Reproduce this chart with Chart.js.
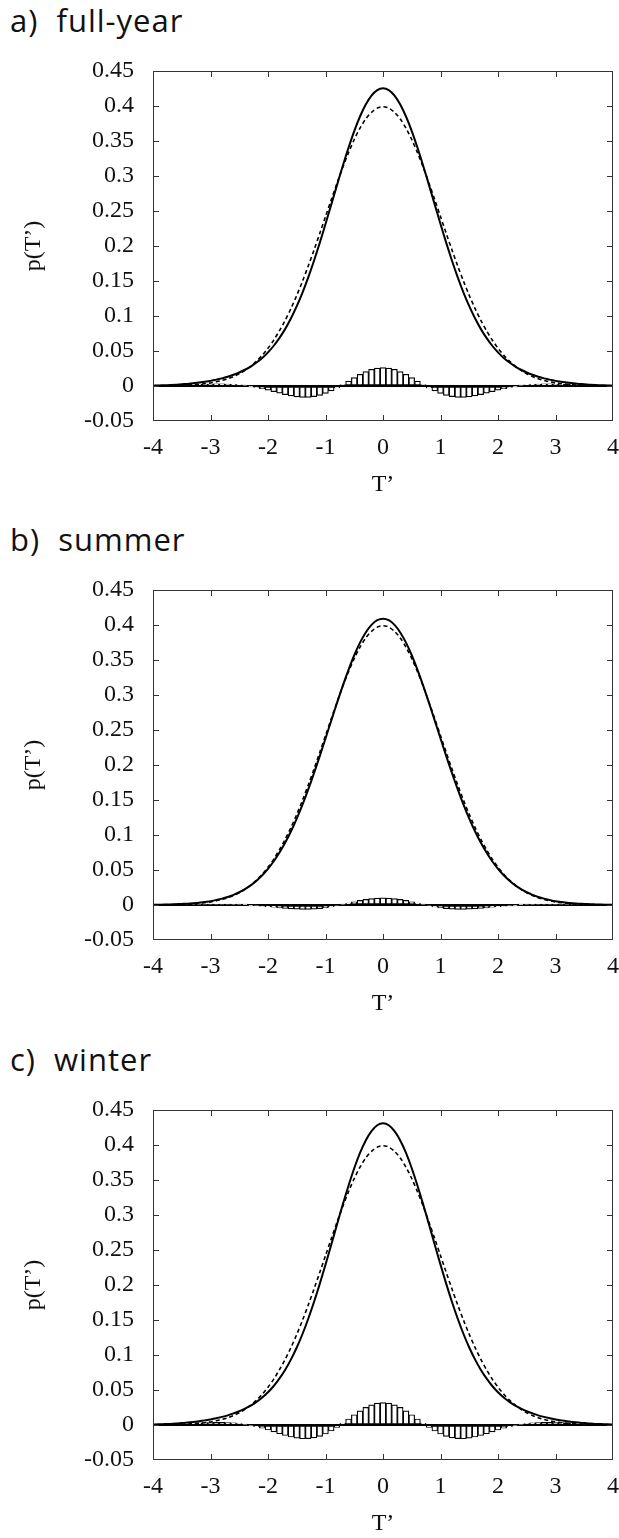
<!DOCTYPE html>
<html>
<head>
<meta charset="utf-8">
<script src="https://cdn.jsdelivr.net/npm/chart.js@4"></script>
<style>
  html, body { margin: 0; padding: 0; background: #fff; overflow: hidden; }
  body { width: 619px; height: 1538px; position: relative; }
  .panel { position: absolute; left: 0; width: 619px; height: 520px; }
  .title { position: absolute; left: 10px; top: 0px; font: 31px 'Open Sans', sans-serif; letter-spacing: 1px; line-height: 40px; color: #111; white-space: pre; }
  canvas { position: absolute; left: 0; top: 50px; }
</style>
</head>
<body>
<div class="panel" style="top:0px"><div class="title">a)  full-year</div><canvas id="chartA" width="619" height="460"></canvas></div>
<div class="panel" style="top:519px"><div class="title">b)  summer</div><canvas id="chartB" width="619" height="460"></canvas></div>
<div class="panel" style="top:1039px"><div class="title">c)  winter</div><canvas id="chartC" width="619" height="460"></canvas></div>
<script>
// T' grid, -4 .. 4
const xs = [-4,-3.9,-3.8,-3.7,-3.6,-3.5,-3.4,-3.3,-3.2,-3.1,-3,-2.9,-2.8,-2.7,-2.6,-2.5,-2.4,-2.3,-2.2,-2.1,
  -2,-1.9,-1.8,-1.7,-1.6,-1.5,-1.4,-1.3,-1.2,-1.1,-1,-0.9,-0.8,-0.7,-0.6,-0.5,-0.4,-0.3,-0.2,-0.1,
  0,0.1,0.2,0.3,0.4,0.5,0.6,0.7,0.8,0.9,1,1.1,1.2,1.3,1.4,1.5,1.6,1.7,1.8,1.9,
  2,2.1,2.2,2.3,2.4,2.5,2.6,2.7,2.8,2.9,3,3.1,3.2,3.3,3.4,3.5,3.6,3.7,3.8,3.9,4]

const xTicks = [-4,-3,-2,-1,0,1,2,3,4]
const yTicks = [-0.05,0,0.05,0.1,0.15,0.2,0.25,0.3,0.35,0.4,0.45]

// dashed curve (gaussian reference), same in all panels
const gauss = [0.0001,0.0002,0.0003,0.0004,0.0006,0.0009,0.0012,0.0017,0.0024,0.0033,0.0044,0.0060,0.0079,0.0104,0.0136,0.0175,0.0224,0.0283,0.0355,0.0440,
  0.0540,0.0656,0.0790,0.0940,0.1109,0.1295,0.1497,0.1714,0.1942,0.2179,0.2420,0.2661,0.2897,0.3123,0.3332,0.3521,0.3683,0.3814,0.3910,0.3970,
  0.3989,0.3970,0.3910,0.3814,0.3683,0.3521,0.3332,0.3123,0.2897,0.2661,0.2420,0.2179,0.1942,0.1714,0.1497,0.1295,0.1109,0.0940,0.0790,0.0656,
  0.0540,0.0440,0.0355,0.0283,0.0224,0.0175,0.0136,0.0104,0.0079,0.0060,0.0044,0.0033,0.0024,0.0017,0.0012,0.0009,0.0006,0.0004,0.0003,0.0002,0.0001]

// a) full-year
const pdfYear = [0.0005,0.0008,0.0011,0.0014,0.0018,0.0025,0.0030,0.0038,0.0049,0.0060,0.0073,0.0091,0.0109,0.0132,0.0160,0.0193,0.0232,0.0278,0.0335,0.0401,
  0.0481,0.0575,0.0687,0.0816,0.0967,0.1140,0.1335,0.1552,0.1790,0.2045,0.2314,0.2591,0.2870,0.3144,0.3403,0.3642,0.3850,0.4021,0.4148,0.4227,
  0.4252,0.4227,0.4148,0.4021,0.3850,0.3642,0.3403,0.3144,0.2870,0.2591,0.2314,0.2045,0.1790,0.1552,0.1335,0.1140,0.0967,0.0816,0.0687,0.0575,
  0.0481,0.0401,0.0335,0.0278,0.0232,0.0193,0.0160,0.0132,0.0109,0.0091,0.0073,0.0060,0.0049,0.0038,0.0030,0.0025,0.0018,0.0014,0.0011,0.0008,0.0005]
const diffYear = [0.0004,0.0006,0.0008,0.0010,0.0012,0.0016,0.0018,0.0021,0.0025,0.0027,0.0029,0.0031,0.0030,0.0028,0.0024,0.0018,0.0008,-0.0005,-0.0020,-0.0039,
  -0.0059,-0.0081,-0.0103,-0.0124,-0.0142,-0.0155,-0.0162,-0.0162,-0.0152,-0.0134,-0.0106,-0.0070,-0.0027,0.0021,0.0071,0.0121,0.0167,0.0207,0.0238,0.0257,
  0.0263,0.0257,0.0238,0.0207,0.0167,0.0121,0.0071,0.0021,-0.0027,-0.0070,-0.0106,-0.0134,-0.0152,-0.0162,-0.0162,-0.0155,-0.0142,-0.0124,-0.0103,-0.0081,
  -0.0059,-0.0039,-0.0020,-0.0005,0.0008,0.0018,0.0024,0.0028,0.0030,0.0031,0.0029,0.0027,0.0025,0.0021,0.0018,0.0016,0.0012,0.0010,0.0008,0.0006,0.0004]

// b) summer
const pdfSummer = [0.0002,0.0004,0.0006,0.0008,0.0011,0.0015,0.0019,0.0025,0.0033,0.0044,0.0055,0.0072,0.0091,0.0115,0.0145,0.0182,0.0227,0.0281,0.0347,0.0425,
  0.0517,0.0625,0.0750,0.0892,0.1054,0.1235,0.1434,0.1652,0.1883,0.2127,0.2379,0.2634,0.2886,0.3131,0.3359,0.3568,0.3748,0.3894,0.4002,0.4069,
  0.4091,0.4069,0.4002,0.3894,0.3748,0.3568,0.3359,0.3131,0.2886,0.2634,0.2379,0.2127,0.1883,0.1652,0.1434,0.1235,0.1054,0.0892,0.0750,0.0625,
  0.0517,0.0425,0.0347,0.0281,0.0227,0.0182,0.0145,0.0115,0.0091,0.0072,0.0055,0.0044,0.0033,0.0025,0.0019,0.0015,0.0011,0.0008,0.0006,0.0004,0.0002]
const diffSummer = [0.0001,0.0002,0.0003,0.0004,0.0005,0.0006,0.0007,0.0008,0.0009,0.0011,0.0011,0.0012,0.0012,0.0011,0.0009,0.0007,0.0003,-0.0002,-0.0008,-0.0015,
  -0.0023,-0.0031,-0.0040,-0.0048,-0.0055,-0.0060,-0.0063,-0.0062,-0.0059,-0.0052,-0.0041,-0.0027,-0.0011,0.0008,0.0027,0.0047,0.0065,0.0080,0.0092,0.0099,
  0.0102,0.0099,0.0092,0.0080,0.0065,0.0047,0.0027,0.0008,-0.0011,-0.0027,-0.0041,-0.0052,-0.0059,-0.0062,-0.0063,-0.0060,-0.0055,-0.0048,-0.0040,-0.0031,
  -0.0023,-0.0015,-0.0008,-0.0002,0.0003,0.0007,0.0009,0.0011,0.0012,0.0012,0.0011,0.0011,0.0009,0.0008,0.0007,0.0006,0.0005,0.0004,0.0003,0.0002,0.0001]

// c) winter
const pdfWinter = [0.0005,0.0010,0.0013,0.0016,0.0021,0.0028,0.0034,0.0043,0.0054,0.0066,0.0079,0.0097,0.0116,0.0138,0.0166,0.0196,0.0234,0.0277,0.0330,0.0393,
  0.0468,0.0557,0.0665,0.0790,0.0937,0.1107,0.1300,0.1518,0.1757,0.2016,0.2291,0.2575,0.2864,0.3148,0.3418,0.3668,0.3886,0.4065,0.4198,0.4282,
  0.4309,0.4282,0.4198,0.4065,0.3886,0.3668,0.3418,0.3148,0.2864,0.2575,0.2291,0.2016,0.1757,0.1518,0.1300,0.1107,0.0937,0.0790,0.0665,0.0557,
  0.0468,0.0393,0.0330,0.0277,0.0234,0.0196,0.0166,0.0138,0.0116,0.0097,0.0079,0.0066,0.0054,0.0043,0.0034,0.0028,0.0021,0.0016,0.0013,0.0010,0.0005]
const diffWinter = [0.0004,0.0008,0.0010,0.0012,0.0015,0.0019,0.0022,0.0026,0.0030,0.0033,0.0035,0.0037,0.0037,0.0034,0.0030,0.0021,0.0010,-0.0006,-0.0025,-0.0047,
  -0.0072,-0.0099,-0.0125,-0.0150,-0.0172,-0.0188,-0.0197,-0.0196,-0.0185,-0.0163,-0.0129,-0.0086,-0.0033,0.0025,0.0086,0.0147,0.0203,0.0251,0.0288,0.0312,
  0.0320,0.0312,0.0288,0.0251,0.0203,0.0147,0.0086,0.0025,-0.0033,-0.0086,-0.0129,-0.0163,-0.0185,-0.0196,-0.0197,-0.0188,-0.0172,-0.0150,-0.0125,-0.0099,
  -0.0072,-0.0047,-0.0025,-0.0006,0.0010,0.0021,0.0030,0.0034,0.0037,0.0037,0.0035,0.0033,0.0030,0.0026,0.0022,0.0019,0.0015,0.0012,0.0010,0.0008,0.0004]

const serif = { family: "'Liberation Serif', serif", size: 24 }

// frame with inward tick marks on all four sides
const frameTicks = {
  id: 'frameTicks',
  afterDatasetsDraw(chart) {
    const { ctx, chartArea: a, scales: { x, y } } = chart
    ctx.save()
    ctx.strokeStyle = '#333'
    ctx.lineWidth = 1
    ctx.strokeRect(a.left + 0.5, a.top + 0.5, a.right - a.left - 1, a.bottom - a.top - 1)
    ctx.beginPath()
    xTicks.slice(1, -1).forEach(v => {
      const px = Math.round(x.getPixelForValue(v)) + 0.5
      ctx.moveTo(px, a.bottom); ctx.lineTo(px, a.bottom - 6)
      ctx.moveTo(px, a.top); ctx.lineTo(px, a.top + 6)
    })
    yTicks.slice(1, -1).forEach(v => {
      const py = Math.round(y.getPixelForValue(v)) + 0.5
      ctx.moveTo(a.left, py); ctx.lineTo(a.left + 6, py)
      ctx.moveTo(a.right, py); ctx.lineTo(a.right - 6, py)
    })
    ctx.stroke()
    ctx.restore()
  }
}

const pts = arr => xs.map((x, i) => ({ x, y: arr[i] }))

function makeChart(id, pdf, diff) {
  return new Chart(document.getElementById(id), {
    type: 'line',
    data: {
      datasets: [
        { type: 'line', data: pts(pdf), borderColor: '#000', borderWidth: 2, pointRadius: 0, tension: 0.3, order: 1 },
        { type: 'line', data: pts(gauss), borderColor: '#000', borderWidth: 1.6, borderDash: [4, 3], pointRadius: 0, tension: 0.3, order: 2 },
        { type: 'bar', data: pts(diff), backgroundColor: '#fff', borderColor: '#000', borderWidth: 1.2,
          borderSkipped: false, barPercentage: 1, categoryPercentage: 1, order: 3 }
      ]
    },
    options: {
      responsive: false,
      animation: false,
      devicePixelRatio: 1,
      layout: { padding: { top: 21, right: 6, left: 0, bottom: 0 } },
      plugins: { legend: { display: false }, tooltip: { enabled: false } },
      scales: {
        x: {
          type: 'linear', min: -4, max: 4, offset: false,
          grid: { display: false, drawTicks: false },
          border: { display: false },
          afterBuildTicks: s => { s.ticks = xTicks.map(v => ({ value: v })) },
          afterFit: s => { s.height = 89; s.paddingLeft = 0; s.paddingRight = 0 },
          ticks: { font: serif, color: '#111', padding: 12, maxRotation: 0, autoSkip: false },
          title: { display: true, text: 'T’', font: serif, color: '#111', padding: { top: 0, bottom: 11 } }
        },
        y: {
          min: -0.05, max: 0.45,
          // only the zero line is drawn across the plot
          grid: { drawTicks: false, lineWidth: 2,
            color: c => (c.tick && c.tick.value === 0 ? '#000' : 'rgba(0,0,0,0)') },
          border: { display: false },
          afterBuildTicks: s => { s.ticks = yTicks.map(v => ({ value: v })) },
          afterFit: s => { s.width = 153; s.paddingTop = 0; s.paddingBottom = 0 },
          ticks: { font: serif, color: '#111', padding: 19,
            callback: v => String(Math.round(v * 100) / 100) },
          title: { display: true, text: 'p(T’)', font: serif, color: '#111', padding: { top: 19, bottom: 4 } }
        }
      }
    },
    plugins: [frameTicks]
  })
}

makeChart('chartA', pdfYear, diffYear)
makeChart('chartB', pdfSummer, diffSummer)
makeChart('chartC', pdfWinter, diffWinter)
</script>
</body>
</html>
